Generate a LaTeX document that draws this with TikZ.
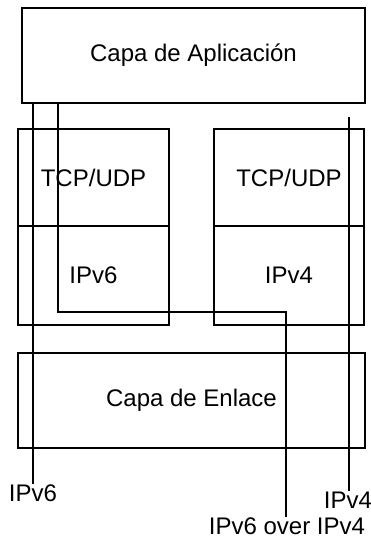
\documentclass[tikz,border=0pt]{standalone}
\usepackage{fontspec}
\setmainfont{Liberation Sans}
\begin{document}
\begin{tikzpicture}[x=1pt,y=-1pt,
  box/.style={draw, line width=2pt, inner sep=0pt, font=\fontsize{24}{24}\selectfont},
  lbl/.style={inner sep=1pt, font=\fontsize{24}{24}\selectfont},
  wire/.style={line width=2pt}]
\useasboundingbox (0,0) rectangle (371,550);
% boxes
\node[box, minimum width=343pt, minimum height=95pt] (app) at (193.5,55.5) {Capa de Aplicación};
\node[box, minimum width=151pt, minimum height=97pt] (tcpL) at (93.5,177.5) {TCP/UDP};
\node[box, minimum width=151pt, minimum height=99pt] (ip6) at (93.5,275.5) {IPv6};
\node[box, minimum width=150pt, minimum height=97pt] (tcpR) at (289,177.5) {TCP/UDP};
\node[box, minimum width=150pt, minimum height=99pt] (ip4) at (289,275.5) {IPv4};
\node[box, minimum width=347pt, minimum height=95pt] (link) at (191.5,400.5) {Capa de Enlace};
% labels
\node[lbl, anchor=north] (l6) at (33,484) {IPv6};
\node[lbl, anchor=north] (l4) at (348,491) {IPv4};
\node[lbl, anchor=north] (lov) at (287,517) {IPv6 over IPv4};
% wire coordinates
\coordinate (ax) at (33,0);
\coordinate (bx) at (58,0);
\coordinate (bturn) at (286,312);
\coordinate (ctop) at (349,117);
% wires
\draw[wire] (app.south -| ax) -- (ax |- l6.north);
\draw[wire] (app.south -| bx) |- (bturn) -- (bturn |- lov.north);
\draw[wire] (ctop) -- (ctop |- l4.north);
\end{tikzpicture}
\end{document}
